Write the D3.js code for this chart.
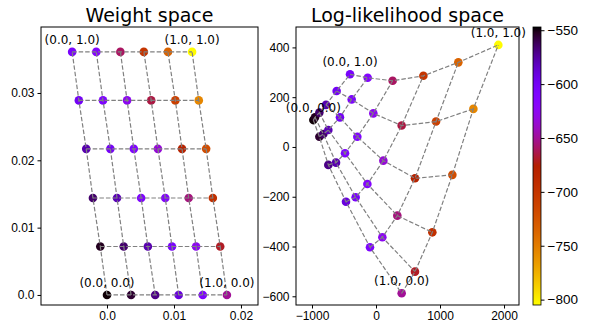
<!DOCTYPE html>
<html>
<head>
<meta charset="utf-8">
<script src="https://cdn.jsdelivr.net/npm/d3@7"></script>
<style>
  body { margin: 0; background: #fff; }
  svg { display: block; font-family: "DejaVu Sans", sans-serif; }
  .tick text { font-size: 12px; fill: #000; }
  .tick line, .domain { stroke: #000; }
</style>
</head>
<body>
<svg id="chart" width="598" height="322"></svg>
<script>
// grid rows are b = 0 .. 1 (second coordinate), columns a = 0 .. 1 (first coordinate)
const gridSteps = [0, 0.2, 0.4, 0.6, 0.8, 1.0];

// weight space positions
const weightX = [
    [0, 0.0036, 0.0072, 0.0107, 0.0143, 0.0179],
    [-0.0010, 0.0025, 0.0061, 0.0097, 0.0133, 0.0169],
    [-0.0021, 0.0015, 0.0051, 0.0087, 0.0122, 0.0158],
    [-0.0031, 0.0005, 0.0040, 0.0076, 0.0112, 0.0148],
    [-0.0042, -0.0006, 0.0030, 0.0066, 0.0102, 0.0137],
    [-0.0052, -0.0016, 0.0020, 0.0055, 0.0091, 0.0127]
];
const weightY = [0, 0.0072, 0.0144, 0.0217, 0.0289, 0.0361];

// log-likelihood space positions
const llX = [
    [-979, -885, -745, -469, -94, 401],
    [-953, -823, -625, -318, 99, 609],
    [-885, -745, -484, -135, 333, 880],
    [-781, -563, -292, 115, 609, 1193],
    [-615, -380, -42, 401, 938, 1521],
    [-406, -130, 260, 740, 1286, 1911]
];
const llY = [
    [108, 41, -72, -220, -403, -588],
    [119, 52, -63, -202, -363, -501],
    [138, 68, -25, -149, -276, -343],
    [169, 119, 41, -55, -126, -112],
    [225, 191, 135, 86, 102, 153],
    [292, 278, 266, 286, 340, 410]
];

// colour value of every grid point
const pointValue = [
    [-548, -555, -570, -590, -610, -650],
    [-552, -565, -578, -605, -625, -670],
    [-565, -580, -610, -615, -655, -695],
    [-578, -600, -612, -635, -680, -720],
    [-600, -610, -625, -665, -710, -755],
    [-605, -615, -660, -700, -735, -804]
];

const cornerLabels = [
    { row: 0, col: 0, text: "(0.0, 0.0)" },
    { row: 0, col: 5, text: "(1.0, 0.0)" },
    { row: 5, col: 0, text: "(0.0, 1.0)" },
    { row: 5, col: 5, text: "(1.0, 1.0)" }
];

const weightXTicks = [0, 0.01, 0.02];
const weightXTickLabels = ["0.0", "0.01", "0.02"];
const weightYTicks = [0, 0.01, 0.02, 0.03];
const weightYTickLabels = ["0.0", "0.01", "0.02", "0.03"];
const llXTicks = [-1000, 0, 1000, 2000];
const llXTickLabels = ["\u22121000", "0", "1000", "2000"];
const llYTicks = [-600, -400, -200, 0, 200, 400];
const llYTickLabels = ["\u2212600", "\u2212400", "\u2212200", "0", "200", "400"];
const colorTicks = [-550, -600, -650, -700, -750, -800];
const colorTickLabels = ["\u2212550", "\u2212600", "\u2212650", "\u2212700", "\u2212750", "\u2212800"];

// matplotlib "gnuplot" colormap
function gnuplot(t) {
    t = Math.max(0, Math.min(1, t));
    const r = Math.sqrt(t);
    const g = t * t * t;
    const b = Math.max(0, Math.min(1, Math.sin(2 * Math.PI * t)));
    return d3.rgb(r * 255, g * 255, b * 255).formatHex();
}

const svg = d3.select("#chart");
const plotTop = 27, plotBottom = 305;

const colorT = d3.scaleLinear().domain([-547, -805]).range([0, 1]);
const color = v => gnuplot(colorT(v));

function drawPanel(opts) {
    const x = d3.scaleLinear().domain(opts.xDomain).range([opts.left, opts.right]);
    const y = d3.scaleLinear().domain(opts.yDomain).range([plotBottom, plotTop]);
    const g = svg.append("g");

    const pts = [];
    for (let r = 0; r < gridSteps.length; r++) {
        for (let c = 0; c < gridSteps.length; c++) {
            pts.push({ r, c, px: x(opts.getX(r, c)), py: y(opts.getY(r, c)), v: pointValue[r][c] });
        }
    }

    g.selectAll("circle")
        .data(pts)
        .enter()
        .append("circle")
        .attr("cx", d => d.px)
        .attr("cy", d => d.py)
        .attr("r", 4.3)
        .attr("fill", d => color(d.v));

    const line = d3.line().x(d => d.px).y(d => d.py);
    const paths = [];
    for (let r = 0; r < gridSteps.length; r++) {
        paths.push(pts.filter(d => d.r === r));
    }
    for (let c = 0; c < gridSteps.length; c++) {
        paths.push(pts.filter(d => d.c === c));
    }
    g.selectAll("path.grid")
        .data(paths)
        .enter()
        .append("path")
        .attr("class", "grid")
        .attr("d", line)
        .attr("fill", "none")
        .attr("stroke", "#808080")
        .attr("stroke-width", 1.2)
        .attr("stroke-dasharray", "4.5,2");

    g.selectAll("text.corner")
        .data(cornerLabels)
        .enter()
        .append("text")
        .attr("class", "corner")
        .attr("x", d => x(opts.getX(d.row, d.col)))
        .attr("y", d => y(opts.getY(d.row, d.col)) - 8)
        .attr("text-anchor", "middle")
        .attr("font-size", 12)
        .text(d => d.text);

    g.append("g")
        .attr("transform", `translate(0,${plotBottom})`)
        .call(d3.axisBottom(x).tickValues(opts.xTicks).tickSize(3.5).tickPadding(2.5)
            .tickFormat((d, i) => opts.xTickLabels[i]))
        .call(a => a.select(".domain").remove());

    g.append("g")
        .attr("transform", `translate(${opts.left},0)`)
        .call(d3.axisLeft(y).tickValues(opts.yTicks).tickSize(3.5).tickPadding(3)
            .tickFormat((d, i) => opts.yTickLabels[i]))
        .call(a => a.select(".domain").remove());

    g.append("rect")
        .attr("x", opts.left)
        .attr("y", plotTop)
        .attr("width", opts.right - opts.left)
        .attr("height", plotBottom - plotTop)
        .attr("fill", "none")
        .attr("stroke", "#000")
        .attr("stroke-width", 1);

    g.append("text")
        .attr("x", (opts.left + opts.right) / 2)
        .attr("y", plotTop - 5)
        .attr("text-anchor", "middle")
        .attr("font-size", 19)
        .text(opts.title);
}

drawPanel({
    title: "Weight space",
    left: 41, right: 258,
    xDomain: [-0.00985, 0.02254],
    yDomain: [-0.00149, 0.0398],
    getX: (r, c) => weightX[r][c],
    getY: (r, c) => weightY[r],
    xTicks: weightXTicks, xTickLabels: weightXTickLabels,
    yTicks: weightYTicks, yTickLabels: weightYTickLabels
});

drawPanel({
    title: "Log-likelihood space",
    left: 296, right: 519,
    xDomain: [-1250, 2234],
    yDomain: [-635, 482],
    getX: (r, c) => llX[r][c],
    getY: (r, c) => llY[r][c],
    xTicks: llXTicks, xTickLabels: llXTickLabels,
    yTicks: llYTicks, yTickLabels: llYTickLabels
});

// colorbar
const cbLeft = 533, cbWidth = 8;
const cbScale = d3.scaleLinear().domain([-547, -805]).range([plotTop, plotBottom]);
const defs = svg.append("defs");
const grad = defs.append("linearGradient")
    .attr("id", "cbgrad")
    .attr("x1", 0).attr("y1", 0).attr("x2", 0).attr("y2", 1);
d3.range(0, 1.0001, 0.02).forEach(t => {
    grad.append("stop")
        .attr("offset", t)
        .attr("stop-color", gnuplot(t));
});
svg.append("rect")
    .attr("x", cbLeft)
    .attr("y", plotTop)
    .attr("width", cbWidth)
    .attr("height", plotBottom - plotTop)
    .attr("fill", "url(#cbgrad)")
    .attr("stroke", "#000")
    .attr("stroke-width", 0.8);

svg.append("g")
    .attr("transform", `translate(${cbLeft + cbWidth},0)`)
    .call(d3.axisRight(cbScale).tickValues(colorTicks).tickSize(3.5).tickPadding(3)
        .tickFormat((d, i) => colorTickLabels[i]))
    .call(a => a.select(".domain").remove())
    .selectAll(".tick text")
    .style("font-size", "13.5px");
</script>
</body>
</html>
